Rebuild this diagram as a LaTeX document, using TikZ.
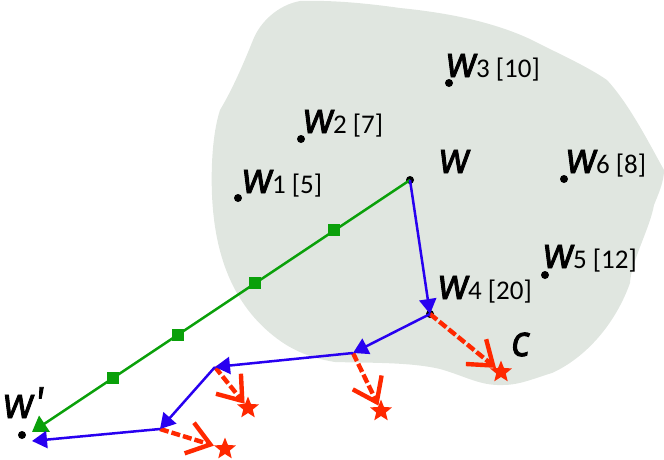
\documentclass[tikz,border=0pt]{standalone}
\usepackage{fontspec}
\setmainfont{Open Sans}
\newfontfamily\wfam[FakeStretch=0.9,FakeSlant=0.12,FakeBold=2]{Open Sans}
\newfontfamily\nfam{Carlito}
\usetikzlibrary{arrows.meta,shapes.geometric}
\definecolor{blobc}{RGB}{224,230,224}
\definecolor{bluec}{RGB}{40,0,240}
\definecolor{greenc}{RGB}{10,160,10}
\definecolor{redc}{RGB}{255,40,0}
\tikzset{
  x=1pt,y=-1pt,
  dot/.style={circle,fill=black,inner sep=0,minimum size=8pt},
  junct/.style={inner sep=0,minimum size=0pt},
  sq/.style={rectangle,fill=greenc,inner sep=0,minimum size=12pt},
  starn/.style={star,star points=5,star point ratio=2.3,fill=redc,inner sep=0,minimum size=23pt},
  lab/.style={anchor=base west,inner sep=0,outer sep=0,text=black},
  bluearr/.style={draw=bluec,line width=2.5pt,-{Triangle[length=15pt,width=17pt]}},
  greenarr/.style={draw=greenc,line width=2.5pt,-{Triangle[length=15pt,width=19pt]}},
  redarr/.style={draw=redc,line width=4.4pt,dash pattern=on 9pt off 3pt,-{Straight Barb[length=22pt,width=32pt,line width=4.4pt]}},
}
\newcommand{\wl}{{\fontsize{43}{43}\selectfont\wfam w}}
\newcommand{\nl}[1]{{\fontsize{27}{27}\selectfont\nfam\kern1pt #1}}
\begin{document}
\begin{tikzpicture}
\useasboundingbox (0,0) rectangle (664,459);
\fill[blobc] (300,1) .. controls (278,5) and (260,22) .. (253,40)
  .. controls (243,65) and (232,90) .. (220,110)
  .. controls (212,135) and (211,170) .. (212,195)
  .. controls (214,240) and (225,295) .. (270,333)
  .. controls (290,350) and (310,358) .. (335,362)
  .. controls (370,363) and (410,362) .. (440,369)
  .. controls (465,376) and (480,386) .. (503,385)
  .. controls (520,385) and (535,378) .. (552,373)
  .. controls (585,358) and (615,325) .. (630,283)
  .. controls (631,262) and (650,228) .. (654,205)
  .. controls (658,195) and (664,182) .. (664,170)
  .. controls (650,145) and (630,105) .. (607,80)
  .. controls (585,65) and (555,52) .. (532,40)
  .. controls (490,20) and (440,12) .. (400,8)
  .. controls (365,3) and (330,0) .. (300,1) -- cycle;

\node[dot] (w) at (410,180) {};
\node[dot] (w1) at (238,198) {};
\node[dot] (w2) at (301,139) {};
\node[dot] (w3) at (449,83) {};
\node[dot] (w4) at (430,314) {};
\node[dot] (w5) at (545,275) {};
\node[dot] (w6) at (564,179) {};
\node[dot] (wp) at (22,435) {};
\node[junct] (j1) at (353,353) {};
\node[junct] (j2) at (215,367) {};
\node[junct] (j3) at (160,429) {};
\coordinate (tg) at (32,432);
\coordinate (tb) at (32,441);

\node[starn] (s1) at (501,372) {};
\node[starn] (s2) at (381,411) {};
\node[starn] (s3) at (248,408) {};
\node[starn] (s4) at (225,449) {};

\draw[greenarr] (w.center) -- (tg)
  node[sq,pos=0.2] (g1) {}
  node[sq,pos=0.41] (g2) {}
  node[sq,pos=0.615] (g3) {}
  node[sq,pos=0.785] (g4) {};

\draw[redarr] (w4.center) -- (s1);
\draw[redarr] (j1.center) -- (s2);
\draw[redarr] (j2.center) -- (s3);
\draw[redarr] (j3.center) -- (s4);

\draw[bluearr] (w.center) -- (w4.center);
\draw[bluearr] (w4.center) -- (j1.center);
\draw[bluearr] (j1.center) -- (j2.center);
\draw[bluearr] (j2.center) -- (j3.center);
\draw[bluearr] (j3.center) -- (tb);

\node[lab] (lw) at (438,173) {\wl};
\node[lab] (l1) at (241,193) {\wl\nl{1 [5]}};
\node[lab] (l2) at (302,133) {\wl\nl{2 [7]}};
\node[lab] (l3) at (445,77) {\wl\nl{3 [10]}};
\node[lab] (l4) at (437,299) {\wl\nl{4 [20]}};
\node[lab] (l5) at (542,268) {\wl\nl{5 [12]}};
\node[lab] (l6) at (565,173) {\wl\nl{6 [8]}};
\node[lab] (lp) at (2,418) {\wl{\fontsize{43}{43}\selectfont\wfam'}};
\node[lab] (lc) at (510,356) {{\fontsize{43}{43}\selectfont\wfam c}};
\end{tikzpicture}
\end{document}
